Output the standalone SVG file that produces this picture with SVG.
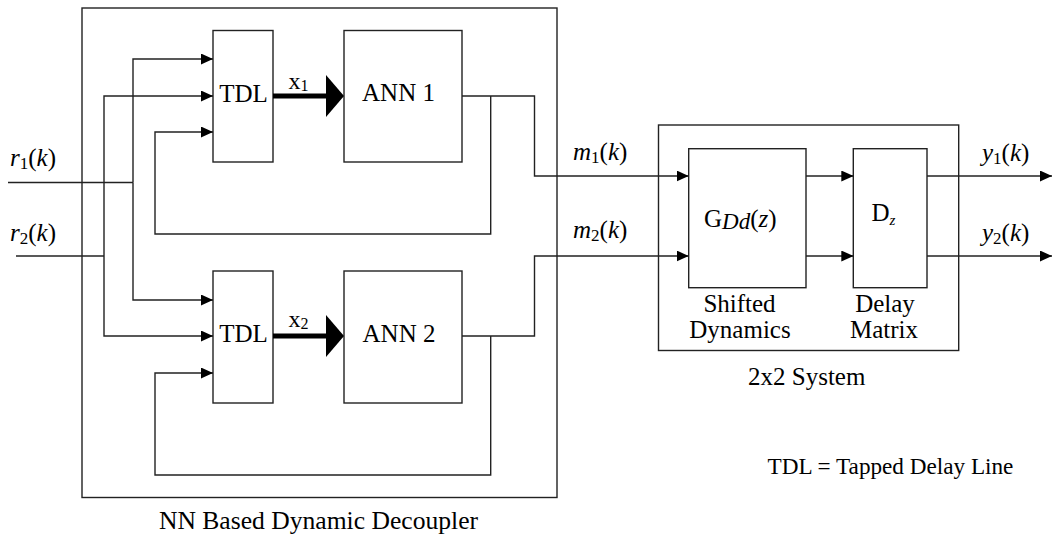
<svg xmlns="http://www.w3.org/2000/svg" width="1054" height="540" viewBox="0 0 1054 540" font-family="'Liberation Serif', 'DejaVu Serif', serif">
<style>
text{font-family:'Liberation Serif','DejaVu Serif',serif;font-size:25px;fill:#000}
text.cap{font-size:25.6px}
text.leg{font-size:23.2px}
text.xl{font-size:24px}
.box{fill:none;stroke:#222;stroke-width:1.4}
.ln{fill:none;stroke:#222;stroke-width:1.4}
.arr{marker-end:url(#ah)}
.thick{fill:none;stroke:#000;stroke-width:5;marker-end:url(#big)}
.it{font-style:italic}
.mid{text-anchor:middle}
</style>
<defs>
<marker id="ah" markerUnits="userSpaceOnUse" markerWidth="12" markerHeight="11" refX="12" refY="5.5" orient="auto">
<path d="M0,0 L12,5.5 L0,11 z" fill="#000"/>
</marker>
<marker id="big" markerUnits="userSpaceOnUse" markerWidth="18" markerHeight="42" refX="2" refY="21" orient="auto">
<path d="M0,0 L18,21 L0,42 z" fill="#000"/>
</marker>
</defs>
<rect x="0" y="0" width="1054" height="540" fill="#fff"/>

<g id="decoupler">
<rect class="box" x="82" y="8" width="475" height="489.5"/>
<text class="mid cap" x="318.5" y="529">NN Based Dynamic Decoupler</text>
</g>
<g id="tdl1">
<rect class="box" x="213" y="30.5" width="60" height="131.5"/>
<text class="mid" x="243.5" y="102">TDL</text>
</g>
<g id="ann1">
<rect class="box" x="344" y="30.5" width="118" height="131.5"/>
<text class="mid" x="398.5" y="101">ANN 1</text>
</g>
<g id="tdl2">
<rect class="box" x="213" y="271" width="60" height="132"/>
<text class="mid" x="243.5" y="342">TDL</text>
</g>
<g id="ann2">
<rect class="box" x="344" y="271" width="118" height="132"/>
<text class="mid" x="399" y="341.5">ANN 2</text>
</g>
<g id="system">
<rect class="box" x="658.5" y="125" width="300.2" height="225.5"/>
<text class="mid" x="806.7" y="385">2x2 System</text>
</g>
<g id="gdd">
<rect class="box" x="688.7" y="148.7" width="117.3" height="139"/>
<text x="704" y="227">G<tspan class="it" font-size="23" dy="2">Dd</tspan><tspan dy="-2">(</tspan><tspan class="it">z</tspan>)</text>
<text class="mid" x="739.5" y="312">Shifted</text>
<text class="mid" x="740" y="338">Dynamics</text>
</g>
<g id="dz">
<rect class="box" x="853.3" y="148.7" width="73.7" height="139"/>
<text x="871.5" y="221">D<tspan class="it" font-size="15" dy="4">z</tspan></text>
<text class="mid" x="885" y="312">Delay</text>
<text class="mid" x="884" y="338">Matrix</text>
</g>
<g id="legend">
<text class="mid leg" x="890.5" y="474">TDL = Tapped Delay Line</text>
</g>

<g id="connectors">
<path class="ln" d="M8,182.5 H133"/>
<path class="ln arr" d="M133,182.5 V59 H213"/>
<path class="ln arr" d="M133,182.5 V300 H213"/>
<path class="ln" d="M16,256 H104"/>
<path class="ln arr" d="M104,256 V96 H213"/>
<path class="ln arr" d="M104,256 V336 H213"/>
<path class="ln arr" d="M462,96 H534.5 V176 H688.7"/>
<path class="ln arr" d="M490.7,96 V234 H155 V132 H213"/>
<path class="ln arr" d="M462,336 H534.5 V256 H688.7"/>
<path class="ln arr" d="M490.7,336 V475 H155 V373 H213"/>
<path class="ln arr" d="M806,176 H853.3"/>
<path class="ln arr" d="M806,256 H853.3"/>
<path class="ln arr" d="M927,176 H1052"/>
<path class="ln arr" d="M927,256 H1052"/>
<path class="thick" d="M273,96 H328"/>
<path class="thick" d="M273,336 H328"/>
<text class="xl" x="288.5" y="88.5">x<tspan font-size="16" dy="2">1</tspan></text>
<text class="xl" x="288.5" y="327">x<tspan font-size="16" dy="2">2</tspan></text>
<text x="10" y="166"><tspan class="it">r</tspan><tspan font-size="17" dy="3">1</tspan><tspan dy="-3">(</tspan><tspan class="it">k</tspan>)</text>
<text x="10" y="240.5"><tspan class="it">r</tspan><tspan font-size="17" dy="3">2</tspan><tspan dy="-3">(</tspan><tspan class="it">k</tspan>)</text>
<text x="573" y="160"><tspan class="it">m</tspan><tspan font-size="17" dy="3">1</tspan><tspan dy="-3">(</tspan><tspan class="it">k</tspan>)</text>
<text x="573" y="237.5"><tspan class="it">m</tspan><tspan font-size="17" dy="3">2</tspan><tspan dy="-3">(</tspan><tspan class="it">k</tspan>)</text>
<text x="982" y="161"><tspan class="it">y</tspan><tspan font-size="17" dy="3">1</tspan><tspan dy="-3">(</tspan><tspan class="it">k</tspan>)</text>
<text x="982" y="241"><tspan class="it">y</tspan><tspan font-size="17" dy="3">2</tspan><tspan dy="-3">(</tspan><tspan class="it">k</tspan>)</text>
</g>
</svg>
